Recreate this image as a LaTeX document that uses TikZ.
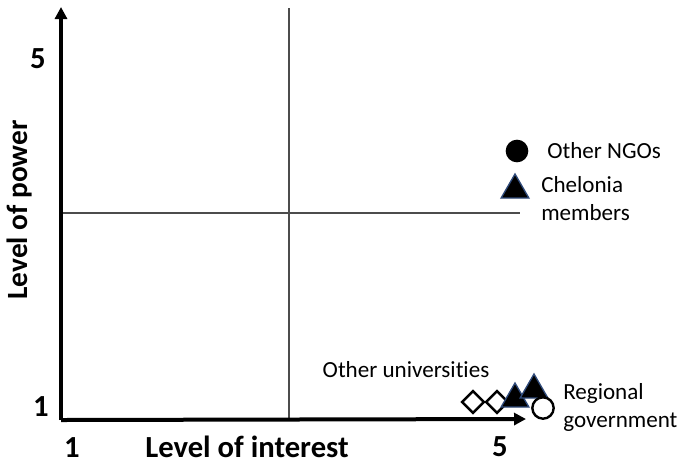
\documentclass[tikz,border=0pt]{standalone}
\usepackage{fontspec}
\setmainfont{Carlito}[Ligatures=NoCommon]
\usetikzlibrary{arrows.meta,shapes.geometric}
\definecolor{tribord}{HTML}{2F4A7A}
\tikzset{
  axis/.style={line width=3pt,-{Triangle[length=9pt,width=9pt]}},
  grid/.style={line width=0.8pt,black!70},
  lbl/.style={font=\fontsize{17.3}{21}\selectfont,inner sep=0pt},
  blbl/.style={font=\bfseries\fontsize{23}{26}\selectfont,inner sep=0pt},
  tri/.style={regular polygon,regular polygon sides=3,fill=black,draw=tribord,line width=1pt,minimum size=24pt,inner sep=0pt},
  dia/.style={diamond,draw=black,fill=white,line width=1.8pt,minimum size=17pt,inner sep=0pt},
  dot/.style={circle,fill=black,minimum size=17pt,inner sep=0pt},
  odot/.style={circle,draw=black,fill=white,line width=1.8pt,minimum size=16pt,inner sep=0pt}
}
\begin{document}
\begin{tikzpicture}[x=0.75pt,y=-0.75pt]
\useasboundingbox (0,0) rectangle (680,465);
\coordinate (o) at (61,420);
\coordinate (ytip) at (61,7);
\coordinate (xtip) at (526,419);
\coordinate (vt) at (289,8);
\coordinate (vb) at (289,420);
\coordinate (hl) at (61,213);
\coordinate (hr) at (520,213);
\draw[grid] (vt) -- (vb);
\draw[grid] (hl) -- (hr);
\draw[axis] (o) -- (ytip);
\draw[axis] (o) -- (xtip);
\node[blbl] (y5) at (38,59) {5};
\node[blbl] (y1) at (41,407) {1};
\node[blbl] (x1) at (72,448) {1};
\node[blbl] (x5) at (500,447) {5};
\node[blbl] (xl) at (247,447) {Level of interest};
\node[blbl,font=\bfseries\fontsize{22}{26}\selectfont,rotate=90] (yl) at (20,210) {Level of power};
\node[dot] (ngo) at (517,151) {};
\node[lbl,anchor=west] (ngot) at (547,151) {Other NGOs};
\node[tri] (chel) at (515,190) {};
\node[lbl,anchor=west,align=left] (chelt) at (541,199) {Chelonia\\members};
\node[dia] (d1) at (473,402) {};
\node[dia] (d2) at (497,402) {};
\node[tri] (t1) at (515,399) {};
\node[tri] (t2) at (534,390) {};
\node[odot] (oc) at (543,408) {};
\node[lbl] (unit) at (406,370) {Other universities};
\node[lbl,anchor=west,align=left] (reg) at (563,407) {Regional\\government};
\end{tikzpicture}
\end{document}
